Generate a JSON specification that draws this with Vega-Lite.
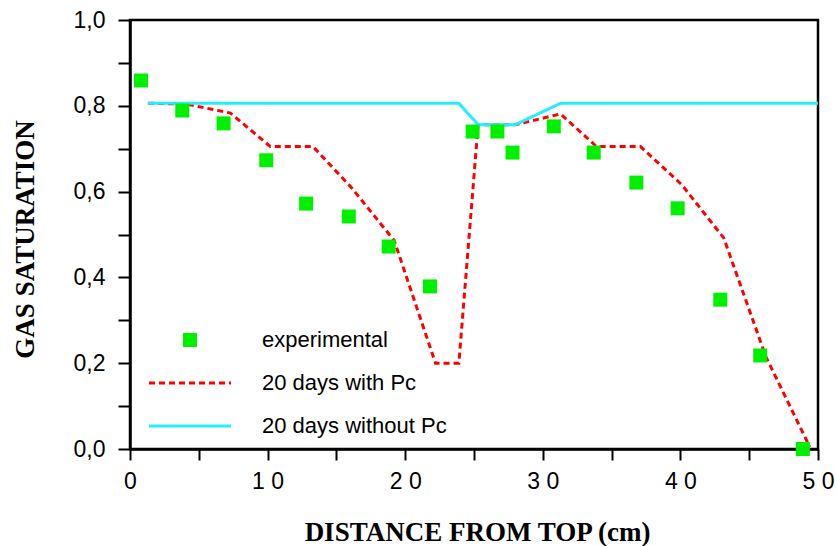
{
  "$schema": "https://vega.github.io/schema/vega-lite/v6.json",
  "width": 688,
  "height": 429,
  "autosize": {"type": "none"},
  "padding": {"left": 130, "top": 20, "right": 18, "bottom": 97},
  "background": "white",
  "config": {
    "view": {"stroke": "black", "strokeWidth": 2.5},
    "font": "Liberation Sans"
  },
  "datasets": {
    "sim": [
      {"series": "20 days with Pc", "x": 1.3, "y": 0.806},
      {"series": "20 days with Pc", "x": 4.1, "y": 0.804},
      {"series": "20 days with Pc", "x": 7.3, "y": 0.783},
      {"series": "20 days with Pc", "x": 10.2, "y": 0.705},
      {"series": "20 days with Pc", "x": 13.3, "y": 0.705},
      {"series": "20 days with Pc", "x": 16.1, "y": 0.609},
      {"series": "20 days with Pc", "x": 19.2, "y": 0.486},
      {"series": "20 days with Pc", "x": 22.2, "y": 0.2},
      {"series": "20 days with Pc", "x": 23.9, "y": 0.2},
      {"series": "20 days with Pc", "x": 25.3, "y": 0.756},
      {"series": "20 days with Pc", "x": 28.0, "y": 0.756},
      {"series": "20 days with Pc", "x": 31.3, "y": 0.781},
      {"series": "20 days with Pc", "x": 33.9, "y": 0.705},
      {"series": "20 days with Pc", "x": 37.1, "y": 0.705},
      {"series": "20 days with Pc", "x": 40.1, "y": 0.616},
      {"series": "20 days with Pc", "x": 43.15, "y": 0.492},
      {"series": "20 days with Pc", "x": 46.2, "y": 0.216},
      {"series": "20 days with Pc", "x": 49.4, "y": 0.005},
      {"series": "20 days without Pc", "x": 1.3, "y": 0.806},
      {"series": "20 days without Pc", "x": 23.9, "y": 0.806},
      {"series": "20 days without Pc", "x": 25.3, "y": 0.756},
      {"series": "20 days without Pc", "x": 28.0, "y": 0.756},
      {"series": "20 days without Pc", "x": 31.3, "y": 0.806},
      {"series": "20 days without Pc", "x": 50.0, "y": 0.806}
    ],
    "exp": [
      {"x": 0.8, "y": 0.859},
      {"x": 3.8, "y": 0.789},
      {"x": 6.8, "y": 0.759},
      {"x": 9.9, "y": 0.673},
      {"x": 12.8, "y": 0.572},
      {"x": 15.9, "y": 0.542},
      {"x": 18.8, "y": 0.472},
      {"x": 21.8, "y": 0.379},
      {"x": 24.9, "y": 0.74},
      {"x": 26.7, "y": 0.74},
      {"x": 27.8, "y": 0.691},
      {"x": 30.8, "y": 0.752},
      {"x": 33.7, "y": 0.691},
      {"x": 36.8, "y": 0.621},
      {"x": 39.8, "y": 0.561},
      {"x": 42.9, "y": 0.348},
      {"x": 45.8, "y": 0.218},
      {"x": 48.9, "y": 0.0}
    ]
  },
  "encoding": {
    "x": {
      "field": "x",
      "type": "quantitative",
      "scale": {"domain": [0, 50], "nice": false},
      "axis": {
        "title": "DISTANCE FROM TOP (cm)",
        "values": [0, 5, 10, 15, 20, 25, 30, 35, 40, 45, 50],
        "labelExpr": "datum.value % 10 != 0 ? '' : datum.value == 0 ? '0' : floor(datum.value / 10) + ' 0'",
        "grid": false,
        "domainColor": "black",
        "domainWidth": 2.5,
        "tickColor": "black",
        "tickWidth": 2,
        "tickSize": 11,
        "labelFont": "Liberation Sans",
        "labelFontSize": 23,
        "labelColor": "black",
        "labelPadding": 10,
        "labelOverlap": false,
        "labelFlush": false,
        "titleFont": "Liberation Serif",
        "titleFontSize": 27,
        "titleFontWeight": "bold",
        "titleColor": "black",
        "titleBaseline": "alphabetic",
        "titleX": 347,
        "titleY": 91,
        "encode": {"ticks": {"update": {"y2": {"signal": "datum.value % 10 == 0 ? 11 : 6"}}}}
      }
    },
    "y": {
      "field": "y",
      "type": "quantitative",
      "scale": {"domain": [0, 1], "nice": false},
      "axis": {
        "title": "GAS SATURATION",
        "values": [0, 0.1, 0.2, 0.3, 0.4, 0.5, 0.6, 0.7, 0.8, 0.9, 1.0],
        "labelExpr": "round(datum.value * 10) % 2 == 0 ? replace(format(datum.value, '.1f'), '.', ',') : ''",
        "grid": false,
        "domainColor": "black",
        "domainWidth": 2.5,
        "tickColor": "black",
        "tickWidth": 2,
        "tickSize": 12,
        "labelFont": "Liberation Sans",
        "labelFontSize": 23,
        "labelColor": "black",
        "labelPadding": 13,
        "labelOverlap": false,
        "labelFlush": false,
        "titleFont": "Liberation Serif",
        "titleFontSize": 27,
        "titleFontWeight": "bold",
        "titleColor": "black",
        "titleAngle": -90,
        "titleBaseline": "alphabetic",
        "titleX": -97,
        "titleY": 219,
        "encode": {"ticks": {"update": {"x2": {"signal": "round(datum.value * 10) % 2 == 0 ? -12 : -7"}}}}
      }
    }
  },
  "layer": [
    {
      "data": {"name": "sim"},
      "mark": {"type": "line", "strokeWidth": 3},
      "encoding": {
        "color": {
          "field": "series",
          "type": "nominal",
          "scale": {
            "domain": ["experimental", "20 days with Pc", "20 days without Pc"],
            "range": ["#00f000", "#ff0000", "#22eeff"]
          },
          "legend": {
            "title": null,
            "orient": "none",
            "legendX": 17.5,
            "legendY": 310,
            "padding": 0,
            "clipHeight": 20,
            "rowPadding": 21,
            "labelOffset": 29.5,
            "labelFont": "Liberation Sans",
            "labelFontSize": 22,
            "labelColor": "black",
            "labelLimit": 400,
            "symbolStrokeWidth": 3,
            "encode": {
              "symbols": {
                "update": {
                  "shape": {"signal": "datum.value === 'experimental' ? 'square' : 'stroke'"},
                  "size": {"signal": "datum.value === 'experimental' ? 121 : 6724"},
                  "fill": {"signal": "datum.value === 'experimental' ? '#00f000' : 'transparent'"},
                  "stroke": {"signal": "datum.value === 'experimental' ? '#00f000' : datum.value === '20 days with Pc' ? '#ff0000' : '#22eeff'"},
                  "strokeDash": {"signal": "datum.value === '20 days with Pc' ? [6, 4] : []"},
                  "strokeWidth": {"value": 3},
                  "opacity": {"value": 1}
                }
              }
            }
          }
        },
        "strokeDash": {
          "field": "series",
          "type": "nominal",
          "scale": {
            "domain": ["20 days with Pc", "20 days without Pc"],
            "range": [[6, 4], [1, 0]]
          },
          "legend": null
        }
      }
    },
    {
      "data": {"name": "exp"},
      "mark": {"type": "square", "size": 196, "filled": true, "opacity": 1, "color": "#00f000"}
    }
  ]
}
